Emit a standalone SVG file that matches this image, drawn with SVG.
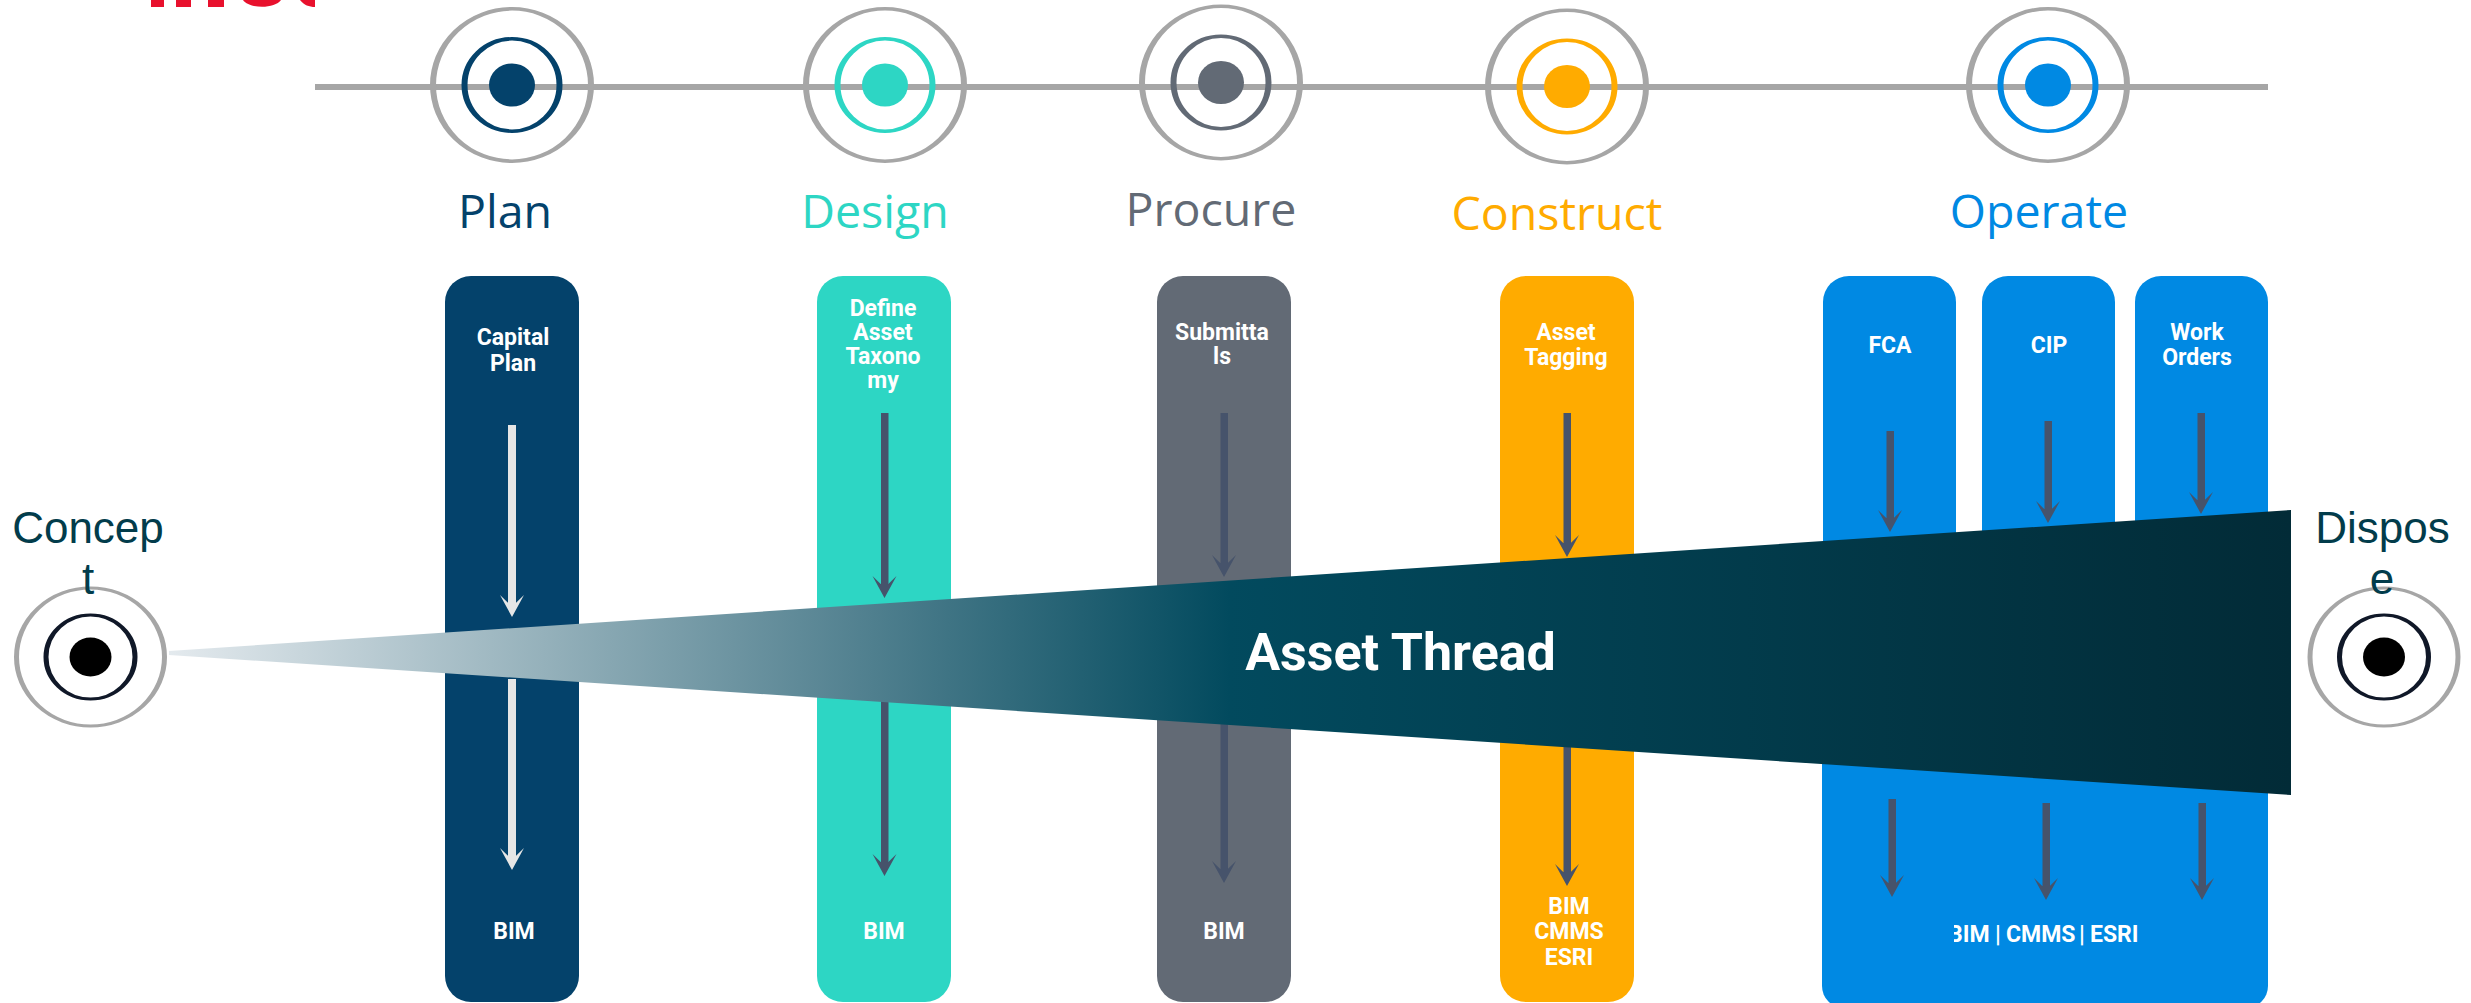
<svg xmlns="http://www.w3.org/2000/svg" width="2471" height="1003" viewBox="0 0 2471 1003">
<defs>
<linearGradient id="wedge" gradientUnits="userSpaceOnUse" x1="169" y1="0" x2="2291" y2="0">
<stop offset="0" stop-color="#e4eaee"/><stop offset=".297" stop-color="#5f8a98"/><stop offset=".5" stop-color="#024a5e"/><stop offset="1" stop-color="#022b37"/>
</linearGradient>
<clipPath id="opclip"><rect x="1954" y="900" width="185" height="60"/></clipPath>
<g id="target"><g transform="scale(1,.6)"><ellipse cx="0" cy="0" rx="79" ry="127" fill="none" stroke="#a6a6a6" stroke-width="6"/><ellipse cx="0" cy="0" rx="47.500" ry="77" fill="none" stroke="currentColor" stroke-width="6"/><ellipse cx="0" cy="0" rx="23" ry="36" fill="currentColor"/></g></g>
<g id="end"><g transform="scale(1,.6)"><ellipse cx="0" cy="0" rx="74" ry="115" fill="none" stroke="#a6a6a6" stroke-width="5"/><ellipse cx="0" cy="0" rx="44.500" ry="70" fill="none" stroke="#101828" stroke-width="5"/><ellipse cx="0" cy="0" rx="21" ry="32.500" fill="#000"/></g></g>
<path id="head" d="M-12 -22L0 0L12 -22L3.800 -14H-3.800Z"/>
</defs>
<style>
.h{font:46.500px "Open Sans",sans-serif;text-anchor:middle}
.t{font:bold 23px Roboto,"Liberation Sans",sans-serif;fill:#fff;text-anchor:middle;transform:translateY(.7px)}
.e{font:44px "Liberation Sans",Arial,sans-serif;fill:#023c4b;text-anchor:middle}
.dk{fill:#46536b}.lt{fill:#e6e6e6}
.bar{rx:26px}
</style>
<rect width="2471" height="1003" fill="#fff"/>
<g id="logo" fill="#e8112d"><rect x="151" y="0" width="13" height="7"/><rect x="176" y="0" width="15" height="7"/><rect x="208" y="0" width="16" height="7"/><path d="M243 0C249 9 275 9 281 0Z"/><path d="M300 0C304 5 309 7 315 7V0Z"/></g>
<rect id="timeline" x="315" y="84" width="1953" height="6" fill="#a6a6a6"/>

<g id="plan"><rect class="bar" x="445" y="276" width="134" height="726" fill="#04426b"/>
<use href="#target" x="512" y="85" color="#04426b"/>
<text class="h" x="505" y="228" fill="#04426b">Plan</text>
<text class="t" x="513" y="344">Capital</text><text class="t" x="513" y="370">Plan</text><text class="t" x="514" y="938">BIM</text></g>

<g id="design"><rect class="bar" x="817" y="276" width="134" height="726" fill="#2dd6c4"/>
<use href="#target" x="885" y="85" color="#2dd6c4"/>
<text class="h" x="875" y="228" fill="#2dd6c4">Design</text>
<text class="t" x="883" y="315">Define</text><text class="t" x="883" y="339">Asset</text><text class="t" x="883" y="363.500">Taxono</text><text class="t" x="883" y="387">my</text><text class="t" x="884" y="938">BIM</text></g>

<g id="procure"><rect class="bar" x="1157" y="276" width="134" height="726" fill="#626a75"/>
<use href="#target" x="1221" y="82.500" color="#626a75"/>
<text class="h" x="1211" y="226" fill="#626a75">Procure</text>
<text class="t" x="1222" y="339">Submitta</text><text class="t" x="1222" y="363">ls</text><text class="t" x="1224" y="938">BIM</text></g>

<g id="construct"><rect class="bar" x="1500" y="276" width="134" height="726" fill="#ffab00"/>
<use href="#target" x="1567" y="86.500" color="#ffab00"/>
<text class="h" x="1557" y="230" fill="#ffab00">Construct</text>
<text class="t" x="1566" y="339">Asset</text><text class="t" x="1566" y="364">Tagging</text>
<text class="t" x="1569" y="913">BIM</text><text class="t" x="1569" y="938">CMMS</text><text class="t" x="1569" y="964">ESRI</text></g>

<g id="operate">
<rect class="bar" x="1823" y="276" width="133" height="300" fill="#0089e3"/><rect class="bar" x="1982" y="276" width="133" height="300" fill="#0089e3"/><rect class="bar" x="2135" y="276" width="133" height="300" fill="#0089e3"/>
<rect x="1822" y="700" width="446" height="308" rx="22" fill="#0089e3"/>
<use href="#target" x="2048" y="85" color="#0089e3"/>
<text class="h" x="2039" y="228" fill="#0089e3">Operate</text>
<text class="t" x="1890" y="352">FCA</text><text class="t" x="2049" y="352">CIP</text><text class="t" x="2197" y="339">Work</text><text class="t" x="2197" y="364">Orders</text>
<g clip-path="url(#opclip)"><text class="t" y="941" style="text-anchor:start"><tspan x="1948">BIM </tspan><tspan x="1995">| </tspan><tspan x="2006">CMMS </tspan><tspan x="2079">| </tspan><tspan x="2090">ESRI</tspan></text></g></g>

<g id="connectors">
<g class="lt">
<rect x="508" y="425" width="8" height="180"/><use href="#head" x="512" y="617"/>
<rect x="508" y="679" width="8" height="180"/><use href="#head" x="512" y="870"/>
</g>
<g class="dk">
<rect x="881" y="413" width="7.500" height="173"/><use href="#head" x="884.500" y="598"/>
<rect x="881" y="690" width="7.500" height="174"/><use href="#head" x="884.500" y="876"/>
<rect x="1220.500" y="413" width="7.500" height="152"/><use href="#head" x="1224" y="577"/>
<rect x="1220.500" y="700" width="7.500" height="171"/><use href="#head" x="1224" y="883"/>
<rect x="1563.500" y="413" width="7.500" height="132"/><use href="#head" x="1567" y="557"/>
<rect x="1563.500" y="730" width="7.500" height="144"/><use href="#head" x="1567" y="886"/>
<rect x="1886.500" y="431" width="7.500" height="89"/><use href="#head" x="1890" y="532"/>
<rect x="2044.500" y="421" width="7.500" height="90"/><use href="#head" x="2048" y="523"/>
<rect x="2197.500" y="413" width="7.500" height="89"/><use href="#head" x="2201" y="514"/>
<rect x="1888.500" y="799" width="7.500" height="86"/><use href="#head" x="1892" y="897"/>
<rect x="2042.500" y="803" width="7.500" height="85"/><use href="#head" x="2046" y="900"/>
<rect x="2198.500" y="803" width="7.500" height="85"/><use href="#head" x="2202" y="900"/>
</g></g>

<g id="asset-thread"><path d="M169 651L2291 510V795L169 655Z" fill="url(#wedge)"/>
<text x="1400.500" y="670" text-anchor="middle" style="font:bold 52px Roboto,'Liberation Sans',sans-serif" fill="#fff">Asset Thread</text></g>

<g id="concept"><use href="#end" x="90.500" y="657"/>
<text class="e" x="88" y="543">Concep</text><text class="e" x="88" y="594">t</text></g>
<g id="dispose"><use href="#end" x="2384" y="657"/>
<text class="e" x="2382.500" y="543">Dispos</text><text class="e" x="2382" y="594">e</text></g>
</svg>
